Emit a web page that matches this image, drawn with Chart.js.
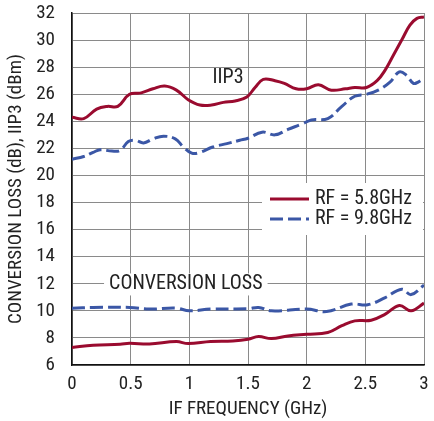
<!DOCTYPE html>
<html>
<head>
<meta charset="utf-8">
<script src="https://cdn.jsdelivr.net/npm/chart.js@4"></script>
<style>
  body { margin: 0; background: #fff; }
  #wrap { width: 434px; height: 421px; }
</style>
</head>
<body>
<div id="wrap"><canvas id="chart" width="434" height="421"></canvas></div>
<script>
// IIP3 curves (dBm) vs IF frequency (GHz)
var iip3Freq58 = [0, 0.1, 0.21, 0.3, 0.39, 0.49, 0.59, 0.69, 0.79, 0.89, 0.99, 1.09, 1.19, 1.29, 1.39, 1.49, 1.56, 1.63, 1.73, 1.81, 1.91, 2.0, 2.1, 2.21, 2.33, 2.41, 2.51, 2.6, 2.67, 2.74, 2.81, 2.88, 2.94, 3.0];
var iip3Val58  = [24.3, 24.2, 24.9, 25.1, 25.1, 26.0, 26.1, 26.4, 26.6, 26.3, 25.6, 25.2, 25.2, 25.4, 25.5, 25.8, 26.5, 27.1, 27.0, 26.8, 26.4, 26.4, 26.7, 26.3, 26.4, 26.5, 26.5, 27.0, 27.8, 28.9, 30.0, 31.1, 31.6, 31.7];

var iip3Freq98 = [0, 0.1, 0.18, 0.24, 0.34, 0.41, 0.48, 0.54, 0.61, 0.69, 0.78, 0.88, 0.95, 1.02, 1.09, 1.2, 1.32, 1.43, 1.5, 1.62, 1.73, 1.84, 1.96, 2.04, 2.18, 2.3, 2.41, 2.51, 2.61, 2.71, 2.79, 2.85, 2.91, 2.95, 3.0];
var iip3Val98  = [21.2, 21.4, 21.7, 21.9, 21.8, 21.85, 22.5, 22.6, 22.4, 22.7, 22.9, 22.7, 22.1, 21.65, 21.7, 22.1, 22.35, 22.6, 22.75, 23.2, 23.0, 23.4, 23.8, 24.1, 24.2, 25.1, 25.85, 26.0, 26.3, 26.9, 27.65, 27.4, 26.8, 26.9, 27.2];

// Conversion loss (dB) vs IF frequency (GHz)
var clFreq58 = [0, 0.18, 0.41, 0.49, 0.66, 0.89, 0.99, 1.18, 1.37, 1.5, 1.59, 1.7, 1.84, 2.0, 2.18, 2.3, 2.41, 2.55, 2.67, 2.79, 2.89, 3.0];
var clVal58  = [7.3, 7.46, 7.53, 7.6, 7.55, 7.73, 7.58, 7.73, 7.78, 7.9, 8.1, 7.95, 8.15, 8.27, 8.4, 8.9, 9.26, 9.31, 9.76, 10.4, 10.0, 10.57];

var clFreq98 = [0, 0.18, 0.49, 0.66, 0.89, 1.0, 1.18, 1.5, 1.59, 1.7, 2.0, 2.17, 2.38, 2.52, 2.67, 2.81, 2.89, 3.0];
var clVal98  = [10.2, 10.25, 10.25, 10.13, 10.2, 10.0, 10.13, 10.15, 10.25, 10.0, 10.13, 9.95, 10.5, 10.45, 10.98, 11.6, 11.2, 11.9];

var xTicks = [0, 0.5, 1, 1.5, 2, 2.5, 3];
var yTicks = [6, 8, 10, 12, 14, 16, 18, 20, 22, 24, 26, 28, 30, 32];
var legendLabels = ['RF = 5.8GHz', 'RF = 9.8GHz'];

var RED = '#9a0b2f';
var BLUE = '#3b57a6';
var FONT = "'Roboto Condensed', 'DejaVu Sans Condensed', sans-serif";

function pts(xs, ys) {
  return xs.map(function (x, i) { return { x: x, y: ys[i] }; });
}

function line(xs, ys, color, dashed) {
  return {
    data: pts(xs, ys),
    borderColor: color,
    borderWidth: 3,
    borderDash: dashed ? [13, 5] : [],
    pointRadius: 0,
    tension: 0.4,
    fill: false
  };
}

// white-boxed labels and legend inside the plot
var notes = {
  id: 'notes',
  afterDatasetsDraw: function (chart) {
    var ctx = chart.ctx;
    var xs = chart.scales.x, ys = chart.scales.y;
    ctx.save();
    ctx.font = '20px ' + FONT;
    ctx.fillStyle = '#222';
    ctx.textBaseline = 'middle';
    ctx.textAlign = 'center';
    ctx.fillText('IIP3', xs.getPixelForValue(1.33), ys.getPixelForValue(27.2));

    var tx = xs.getPixelForValue(0.97), ty = ys.getPixelForValue(11.95);
    var w = ctx.measureText('CONVERSION LOSS').width;
    ctx.fillStyle = '#fff';
    ctx.fillRect(tx - w / 2 - 5, ty - 11, w + 10, 22);
    ctx.fillStyle = '#222';
    ctx.fillText('CONVERSION LOSS', tx, ty);

    // legend
    var lx = 262, ly = 183;
    ctx.fillStyle = '#fff';
    ctx.fillRect(lx, ly, 161, 52);
    var colors = [RED, BLUE];
    legendLabels.forEach(function (lab, i) {
      var y = ly + 16 + i * 20;
      ctx.strokeStyle = colors[i];
      ctx.lineWidth = 3;
      ctx.setLineDash(i ? [13, 5] : []);
      ctx.beginPath();
      ctx.moveTo(lx + 8, y);
      ctx.lineTo(lx + 47, y);
      ctx.stroke();
      ctx.setLineDash([]);
      ctx.fillStyle = '#222';
      ctx.textAlign = 'left';
      ctx.fillText(lab, lx + 53, y);
    });
    ctx.restore();
  }
};

window.onload = function () {
  var config = {
    type: 'line',
    data: {
      datasets: [
        line(iip3Freq58, iip3Val58, RED, false),
        line(iip3Freq98, iip3Val98, BLUE, true),
        line(clFreq58, clVal58, RED, false),
        line(clFreq98, clVal98, BLUE, true)
      ]
    },
    options: {
      responsive: false,
      animation: false,
      layout: { padding: { left: 0, right: 10, top: 13, bottom: 0 } },
      plugins: { legend: { display: false }, tooltip: { enabled: false } },
      scales: {
        x: {
          type: 'linear',
          min: 0, max: 3,
          afterBuildTicks: function (s) { s.ticks = xTicks.map(function (v) { return { value: v }; }); },
          afterFit: function (s) { s.height = 56; s.paddingLeft = 0; s.paddingRight = 0; },
          grid: { color: '#8a8a8a', lineWidth: 1, drawTicks: false },
          border: { color: '#111', width: 1.5 },
          ticks: {
            color: '#222', padding: 8, font: { family: FONT, size: 19 }, maxRotation: 0,
            callback: function (v) { return String(v); }
          },
          title: { display: true, text: 'IF FREQUENCY (GHz)', color: '#222', padding: { top: 7, bottom: 0 }, font: { family: FONT, size: 19 } }
        },
        y: {
          min: 6, max: 32,
          afterBuildTicks: function (s) { s.ticks = yTicks.map(function (v) { return { value: v }; }); },
          afterFit: function (s) { s.width = 72; s.paddingTop = 0; s.paddingBottom = 0; },
          grid: { color: '#8a8a8a', lineWidth: 1, drawTicks: false },
          border: { color: '#111', width: 1.5 },
          ticks: { color: '#222', padding: 17, font: { family: FONT, size: 19 } },
          title: { display: true, text: 'CONVERSION LOSS (dB), IIP3 (dBm)', color: '#222', padding: { top: 5, bottom: 0 }, font: { family: FONT, size: 19 } }
        }
      }
    },
    plugins: [notes]
  };
  var ctx = document.getElementById('chart').getContext('2d');
  window.myLine = new Chart(ctx, config);
};
</script>
</body>
</html>
